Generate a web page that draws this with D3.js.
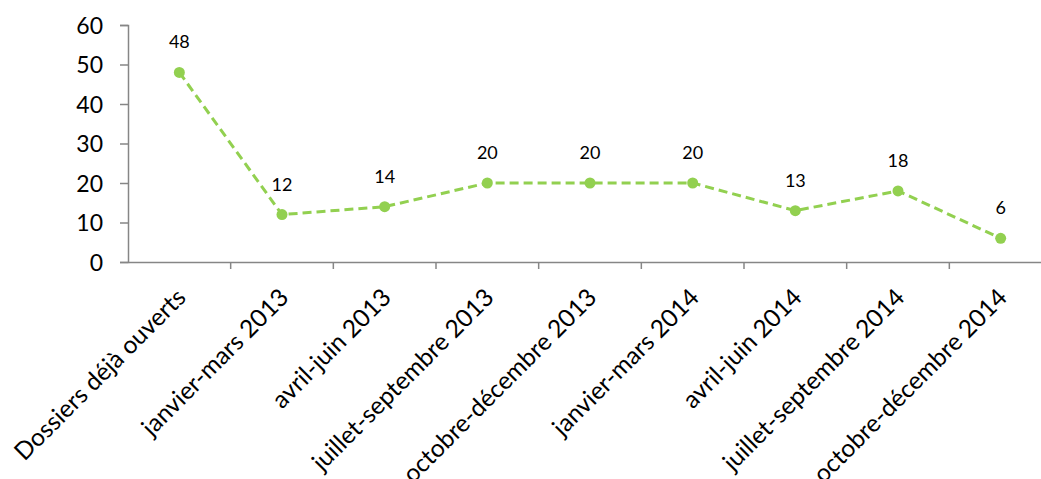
<!DOCTYPE html>
<html>
<head>
<meta charset="utf-8">
<script src="https://cdn.jsdelivr.net/npm/d3@7"></script>
<style>
  body { margin: 0; background: #fff; }
  text { font-family: Lato, "Open Sans", sans-serif; }
</style>
</head>
<body>
<svg id="chart" width="1041" height="479"></svg>
<script>
const categories = [
    'Dossiers déjà ouverts', 'janvier-mars 2013', 'avril-juin 2013',
    'juillet-septembre 2013', 'octobre-décembre 2013', 'janvier-mars 2014',
    'avril-juin 2014', 'juillet-septembre 2014', 'octobre-décembre 2014'
];
const values = [48, 12, 14, 20, 20, 20, 13, 18, 6];
const yTicks = [0, 10, 20, 30, 40, 50, 60];

const CHART = d3.select('#chart');
const plotLeft = 128, plotRight = 1052, plotTop = 25, plotBottom = 262;

const x = d3.scaleBand().domain(categories).range([plotLeft, plotRight]);
const y = d3.scaleLinear().domain([0, 60]).range([plotBottom, plotTop]);

const axisColor = '#868686';
const green = '#92D050';

// y axis
let yAxis = CHART.append('g')
    .attr('transform', `translate(${plotLeft},0)`)
    .call(d3.axisLeft(y).tickValues(yTicks).tickSize(8).tickPadding(17));
yAxis.select('.domain').attr('stroke', axisColor).attr('stroke-width', 1.5);
yAxis.selectAll('.tick line').attr('stroke', axisColor).attr('stroke-width', 1.5);
yAxis.selectAll('.tick text')
    .attr('fill', '#000')
    .style('font-size', '23px')
    .attr('dy', '0.36em');

// x axis
let xAxis = CHART.append('g')
    .attr('transform', `translate(0,${plotBottom})`)
    .call(d3.axisBottom(x).tickSize(0).tickFormat(''));
xAxis.select('.domain').attr('stroke', axisColor).attr('stroke-width', 1.5);

// tick marks between categories
CHART.append('g')
    .selectAll('line')
    .data(categories)
    .join('line')
    .attr('x1', d => x(d) + x.bandwidth())
    .attr('x2', d => x(d) + x.bandwidth())
    .attr('y1', plotBottom)
    .attr('y2', plotBottom + 7)
    .attr('stroke', axisColor)
    .attr('stroke-width', 1.5);

// category labels
CHART.append('g')
    .selectAll('text')
    .data(categories)
    .join('text')
    .attr('transform', d => `translate(${x(d) + x.bandwidth() / 2 + 8},${plotBottom + 37}) rotate(-45)`)
    .attr('text-anchor', 'end')
    .style('font-size', '24.5px')
    .attr('fill', '#000')
    .text(d => d);

// line
const line = d3.line()
    .x((d, i) => x(categories[i]) + x.bandwidth() / 2)
    .y(d => y(d));

CHART.append('path')
    .datum(values)
    .attr('d', line)
    .attr('fill', 'none')
    .attr('stroke', green)
    .attr('stroke-width', 3)
    .attr('stroke-dasharray', '9,5');

CHART.append('g')
    .selectAll('circle')
    .data(values)
    .join('circle')
    .attr('cx', (d, i) => x(categories[i]) + x.bandwidth() / 2)
    .attr('cy', d => y(d))
    .attr('r', 5.5)
    .attr('fill', green);

// data labels
CHART.append('g')
    .selectAll('text')
    .data(values)
    .join('text')
    .attr('x', (d, i) => x(categories[i]) + x.bandwidth() / 2)
    .attr('y', d => y(d) - 24)
    .attr('text-anchor', 'middle')
    .style('font-size', '18px')
    .attr('fill', '#000')
    .text(d => d);
</script>
</body>
</html>
